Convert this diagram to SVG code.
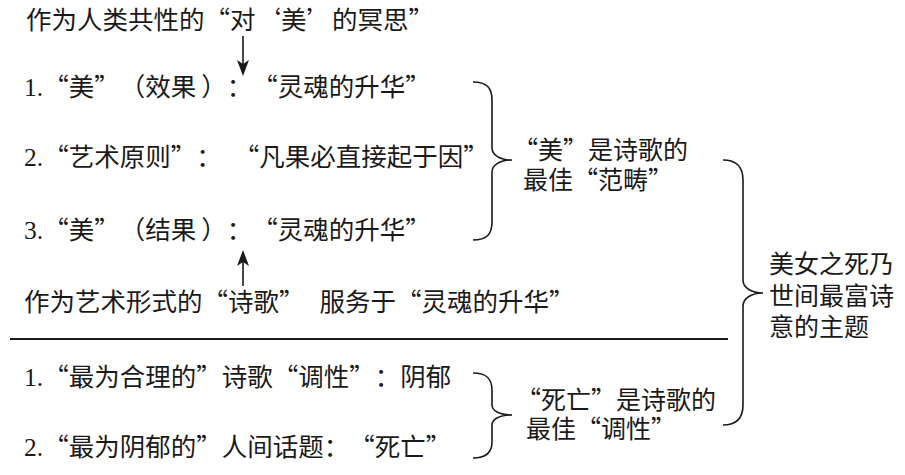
<svg xmlns="http://www.w3.org/2000/svg" width="905" height="475" viewBox="0 0 905 475">
<style>
text{font-family:"Noto Sans CJK SC","Liberation Serif",serif;font-size:25.5px;fill:#1a1a1a;text-spacing-trim:space-all}
.rt{font-size:25px}
.n{font-family:"Liberation Serif",serif}
.br{fill:none;stroke:#1a1a1a;stroke-width:1.6}
.ln{stroke:#1a1a1a;stroke-width:2}
.ar{stroke:#1a1a1a;stroke-width:1.6}
.ah{fill:#1a1a1a}
</style>
<rect width="905" height="475" fill="#fff"/>
<g id="top"><text x="26" y="29">作为人类共性的“对‘美’的冥思”</text></g>
<g id="r1"><text x="24" y="96"><tspan class="n">1.</tspan>“美”（效果<tspan dx="5">）：“灵魂的升华”</tspan></text></g>
<g id="r2"><text x="24" y="166"><tspan class="n">2.</tspan>“艺术原则”：<tspan dx="12">“凡果必直接起于因”</tspan></text></g>
<g id="r3"><text x="24" y="239"><tspan class="n">3.</tspan>“美”（结果<tspan dx="5">）：“灵魂的升华”</tspan></text></g>
<g id="art"><text x="24" y="311">作为艺术形式的“诗歌”<tspan dx="15">服务于“灵魂的升华”</tspan></text></g>
<g id="b1"><text x="24" y="386"><tspan class="n">1.</tspan>“最为合理的”诗歌“调性”：阴郁</text></g>
<g id="b2"><text x="24" y="456"><tspan class="n">2.</tspan>“最为阴郁的”人间话题：“死亡”</text></g>
<g id="beauty"><text class="rt" x="513" y="159">“美”是诗歌的<tspan x="523" y="189">最佳“范畴”</tspan></text></g>
<g id="death"><text class="rt" x="516" y="409">“死亡”是诗歌的<tspan x="526" y="438">最佳“调性”</tspan></text></g>
<g id="theme"><text class="rt" x="769" y="273">美女之死乃<tspan x="769" y="305">世间最富诗</tspan><tspan x="769" y="336">意的主题</tspan></text></g>
<g id="connectors">
<line class="ln" x1="10" y1="339" x2="728" y2="339"/>
<line class="ar" x1="243" y1="36" x2="243" y2="64"/>
<path class="ah" d="M237,60 L243,76 L249,60 L243,64 Z"/>
<line class="ar" x1="243" y1="286" x2="243" y2="262"/>
<path class="ah" d="M237,266 L243,250 L249,266 L243,262 Z"/>
<path class="br" d="M473,82 C487,82 492,88 492,100 L492,148 C492,155 500,160 512,160 C500,160 492,165 492,172 L492,222 C492,234 487,240 473,240"/>
<path class="br" d="M723,160 C737,160 743,168 743,180 L743,280 C743,288 752,293 763,293 C752,293 743,298 743,306 L743,405 C743,418 737,425 723,425"/>
<path class="br" d="M473,373 C487,373 492,379 492,390 L492,405 C492,411 500,415 512,415 C500,415 492,419 492,425 L492,442 C492,452 487,458 473,458"/>
</g>
</svg>
